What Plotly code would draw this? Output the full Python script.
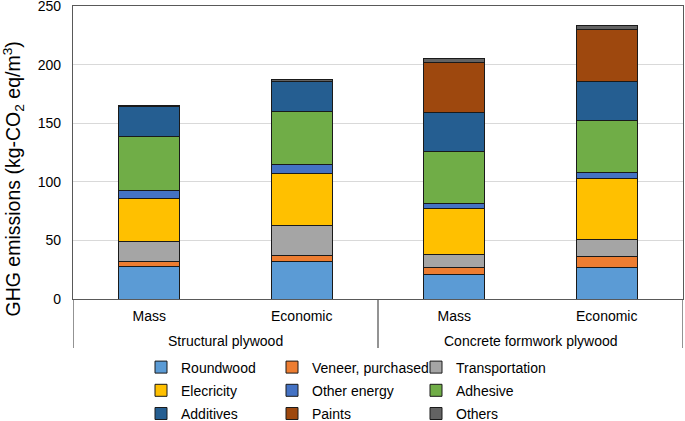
import plotly.graph_objects as go

groups = ["Structural plywood", "Structural plywood", "Concrete formwork plywood", "Concrete formwork plywood"]
methods = ["Mass", "Economic", "Mass", "Economic"]

series_names = ["Roundwood", "Veneer, purchased", "Transportation",
                "Elecricity", "Other energy", "Adhesive",
                "Additives", "Paints", "Others"]
roundwood = [27.6, 31.6, 20.7, 26.7]
veneer = [4.2, 5.9, 6.6, 9.7]
transportation = [17.4, 25.4, 10.5, 14.5]
electricity = [36.8, 44.3, 39.6, 52.1]
other_energy = [7.0, 7.7, 3.9, 5.2]
adhesive = [45.5, 44.9, 44.4, 44.4]
additives = [25.5, 25.6, 33.3, 33.0]
paints = [0.0, 0.0, 43.0, 44.1]
others = [1.5, 1.9, 3.6, 3.5]
series_values = [roundwood, veneer, transportation, electricity, other_energy,
                 adhesive, additives, paints, others]
colors = ["#5B9BD5", "#ED7D31", "#A5A5A5", "#FFC000", "#4472C4",
          "#70AD47", "#255E91", "#9E480E", "#636363"]
y_ticks = [0, 50, 100, 150, 200, 250]

FONT = "Liberation Sans, Arial, sans-serif"
AXIS_COL = "#595959"
PLOT_L, PLOT_W, PLOT_H = 73.0, 610.0, 293.0

xpos = list(range(len(methods)))

# legend laid out in three columns (one legend per column)
legend_ids = ["legend", "legend2", "legend3"] * 3

fig = go.Figure()
for name, vals, col, lg in zip(series_names, series_values, colors, legend_ids):
    fig.add_trace(go.Bar(
        x=xpos, y=vals, name=name, legendgroup=name,
        marker=dict(color=col, line=dict(color="#1a1a1a", width=1)),
        legend=lg,
    ))

# group labels and dividers (computed from the category list)
group_names = []
for g in groups:
    if g not in group_names:
        group_names.append(g)
div_bottom = -49 / PLOT_H
boundaries = [-0.5]
for gname in group_names:
    idx = [i for i, g in enumerate(groups) if g == gname]
    fig.add_annotation(x=sum(idx) / len(idx), y=-42 / PLOT_H, xref="x", yref="paper",
                       text=gname, showarrow=False, yanchor="middle",
                       font=dict(family=FONT, size=14, color="#000000"))
    boundaries.append(max(idx) + 0.5)
for b in boundaries:
    fig.add_shape(type="line", xref="x", yref="paper", x0=b, x1=b, y0=0, y1=div_bottom,
                  line=dict(color=AXIS_COL, width=1.3))

# y-axis title (centred over the whole axis area, as in the original)
fig.add_annotation(x=(12.5 - PLOT_L) / PLOT_W, y=(299 - 179) / PLOT_H,
                   xref="paper", yref="paper", textangle=-90, showarrow=False,
                   xanchor="center", yanchor="middle",
                   text="GHG emissions (kg-CO<sub>2</sub> eq/m<sup>3</sup>)",
                   font=dict(family=FONT, size=19.5, color="#000000"))

leg_common = dict(orientation="v", xanchor="left", yanchor="top",
                  font=dict(family=FONT, size=14, color="#000000"),
                  bgcolor="rgba(0,0,0,0)", itemwidth=30,
                  tracegroupgap=2, traceorder="grouped")
leg_top = -(351.5 - 299) / PLOT_H
fig.update_layout(
    barmode="stack",
    bargap=0.6,
    width=685, height=421,
    margin=dict(l=73, r=2, t=6, b=122, autoexpand=False),
    plot_bgcolor="white", paper_bgcolor="white",
    font=dict(family=FONT, size=14, color="#000000"),
    showlegend=True,
    legend=dict(x=(159 - 18 - PLOT_L) / PLOT_W, y=leg_top, **leg_common),
    legend2=dict(x=(290 - 18 - PLOT_L) / PLOT_W, y=leg_top, **leg_common),
    legend3=dict(x=(434 - 18 - PLOT_L) / PLOT_W, y=leg_top, **leg_common),
    yaxis=dict(
        range=[0, 250], tickvals=y_ticks, ticks="",
        showgrid=True, gridcolor="#d9d9d9", gridwidth=1,
        showline=True, linecolor=AXIS_COL, linewidth=1.3, mirror=True,
        zeroline=False, automargin=False, ticklabelstandoff=8,
        ticklabeloverflow="allow",
        tickfont=dict(family=FONT, size=14, color="#000000"),
    ),
    xaxis=dict(
        range=[-0.5, len(methods) - 0.5],
        tickvals=xpos, ticktext=methods,
        showline=True, linecolor=AXIS_COL, linewidth=1.3, mirror=True,
        showgrid=False, zeroline=False, automargin=False,
        ticks="", ticklabelstandoff=4,
        tickfont=dict(family=FONT, size=14, color="#000000"),
    ),
)

fig.write_html("out.html", config={"displayModeBar": False},
               post_script="document.body.style.margin='0';document.body.style.padding='0';")
